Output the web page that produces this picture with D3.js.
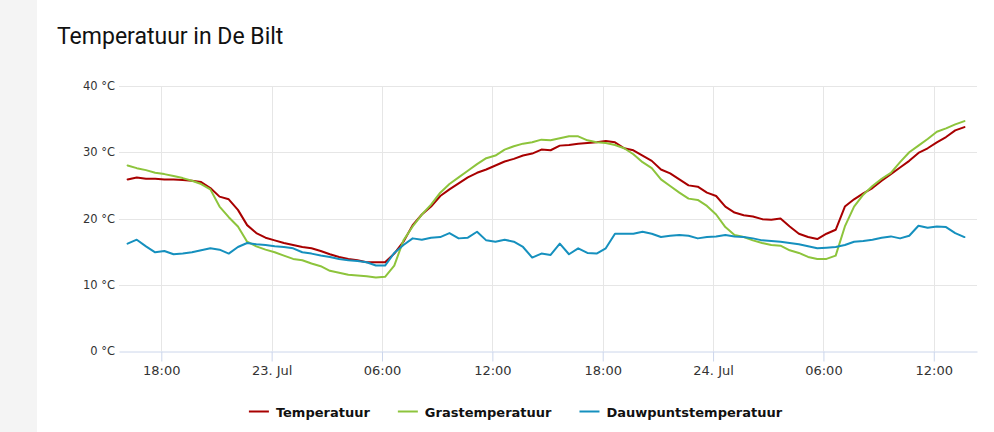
<!DOCTYPE html>
<html>
<head>
<meta charset="utf-8">
<script src="https://cdn.jsdelivr.net/npm/d3@7"></script>
<style>
  html, body { margin: 0; padding: 0; background: #ffffff; }
  svg { display: block; }
</style>
</head>
<body>
<div id="chart"></div>
<script>
// half-hourly readings, first one at 22 Jul 16:10
const startTime = new Date(2019, 6, 22, 16, 10);
const stepMinutes = 30;

const temperatuur = [
  25.9, 26.2, 26.0, 26.0, 25.9, 25.9, 25.8, 25.7, 25.5, 24.6, 23.3, 22.9,
  21.3, 19.0, 17.8, 17.1, 16.7, 16.3, 16.0, 15.7, 15.5, 15.1, 14.6,
  14.2, 13.9, 13.7, 13.4, 13.4, 13.4, 14.7, 16.5, 19.0, 20.6, 21.8, 23.4,
  24.4, 25.3, 26.2, 26.9, 27.4, 28.0, 28.6, 29.0, 29.5, 29.8, 30.4,
  30.3, 31.0, 31.1, 31.3, 31.4, 31.5, 31.7, 31.5, 30.6, 30.3, 29.5, 28.7,
  27.4, 26.8, 25.9, 25.0, 24.8, 23.9, 23.4, 21.8, 20.9, 20.5, 20.3, 19.9,
  19.8, 20.0, 18.8, 17.7, 17.2, 16.9, 17.7, 18.3, 21.8, 22.9, 23.8, 24.6,
  25.7, 26.7, 27.7, 28.7, 29.9, 30.6, 31.5, 32.3, 33.3, 33.8
];

const grastemperatuur = [
  28.0, 27.6, 27.3, 26.9, 26.7, 26.4, 26.1, 25.7, 25.2, 24.4, 21.8, 20.2,
  18.8, 16.5, 15.8, 15.3, 14.9, 14.4, 13.9, 13.7, 13.2, 12.8, 12.1,
  11.8, 11.5, 11.4, 11.3, 11.1, 11.2, 12.9, 16.7, 18.8, 20.6, 22.1, 23.9,
  25.2, 26.2, 27.2, 28.2, 29.1, 29.5, 30.4, 30.9, 31.3, 31.5, 31.9,
  31.8, 32.1, 32.4, 32.4, 31.8, 31.5, 31.4, 31.1, 30.6, 29.7, 28.5, 27.6,
  25.9, 24.9, 23.9, 23.0, 22.8, 21.9, 20.6, 18.7, 17.5, 17.2, 16.7, 16.3,
  16.0, 15.9, 15.2, 14.8, 14.2, 13.9, 13.9, 14.4, 18.8, 21.8, 23.6, 24.9,
  26.0, 26.9, 28.5, 30.0, 31.0, 32.0, 33.1, 33.6, 34.2, 34.7
];

const dauwpuntstemperatuur = [
  16.2, 16.8, 15.8, 14.9, 15.1, 14.6, 14.7, 14.9, 15.2, 15.5, 15.3, 14.7,
  15.7, 16.3, 16.1, 16.0, 15.8, 15.7, 15.5, 14.9, 14.7, 14.4, 14.2,
  13.9, 13.7, 13.6, 13.4, 12.9, 12.9, 14.8, 16.0, 17.0, 16.8, 17.1, 17.2,
  17.8, 17.0, 17.1, 18.0, 16.7, 16.5, 16.8, 16.5, 15.7, 14.1, 14.7,
  14.5, 16.2, 14.6, 15.5, 14.8, 14.7, 15.5, 17.7, 17.7, 17.7, 18.0, 17.7,
  17.2, 17.4, 17.5, 17.4, 17.0, 17.2, 17.3, 17.5, 17.3, 17.2, 17.0, 16.7,
  16.6, 16.5, 16.3, 16.1, 15.8, 15.5, 15.6, 15.7, 16.0, 16.5, 16.6, 16.8,
  17.1, 17.3, 17.0, 17.4, 18.9, 18.6, 18.8, 18.7, 17.8, 17.2
];

const seriesNames = ["Temperatuur", "Grastemperatuur", "Dauwpuntstemperatuur"];
const seriesColors = ["#a80000", "#8dc43c", "#1590be"];
const yTicks = [0, 10, 20, 30, 40];
const monthNames = ["Jan", "Feb", "Mar", "Apr", "Mei", "Jun", "Jul", "Aug", "Sep", "Okt", "Nov", "Dec"];

const width = 994;
const height = 432;
const plot = { left: 119, right: 977, top: 86, bottom: 351 };

const times = temperatuur.map((d, i) => d3.timeMinute.offset(startTime, i * stepMinutes));
const allSeries = [temperatuur, grastemperatuur, dauwpuntstemperatuur].map((vals, k) => ({
  name: seriesNames[k],
  color: seriesColors[k],
  values: vals.map((v, i) => ({ t: times[i], v: v }))
}));

const svg = d3.select("#chart")
  .append("svg")
  .attr("width", width)
  .attr("height", height);

// grey page strip on the left
svg.append("rect")
  .attr("x", 0).attr("y", 0)
  .attr("width", 37).attr("height", height)
  .attr("fill", "#f4f4f4");

// title
svg.append("text")
  .attr("x", 57)
  .attr("y", 43.5)
  .style("font-family", "Roboto")
  .style("font-size", "23px")
  .attr("fill", "#111111")
  .text("Temperatuur in De Bilt");

// scales
const x = d3.scaleTime()
  .domain([new Date(2019, 6, 22, 15, 42), new Date(2019, 6, 24, 14, 21)])
  .range([plot.left, plot.right]);

const y = d3.scaleLinear()
  .domain([0, 40])
  .range([plot.bottom, plot.top]);

const xTicks = x.ticks(d3.timeHour.every(6));
const fmtHour = d3.timeFormat("%H:%M");
function xLabel(d) {
  if (d.getHours() === 0) return d.getDate() + ". " + monthNames[d.getMonth()];
  return fmtHour(d);
}

// horizontal grid
svg.append("g")
  .selectAll("line")
  .data(yTicks.filter(d => d > 0))
  .join("line")
  .attr("x1", plot.left)
  .attr("x2", plot.right)
  .attr("y1", d => Math.round(y(d)) + 0.5)
  .attr("y2", d => Math.round(y(d)) + 0.5)
  .attr("stroke", "#e6e6e6");

// vertical grid
svg.append("g")
  .selectAll("line")
  .data(xTicks)
  .join("line")
  .attr("x1", d => Math.round(x(d)) + 0.5)
  .attr("x2", d => Math.round(x(d)) + 0.5)
  .attr("y1", plot.top)
  .attr("y2", plot.bottom)
  .attr("stroke", "#e6e6e6");

// x axis
const xAxis = svg.append("g")
  .attr("transform", `translate(0, ${Math.round(plot.bottom) + 0.5})`)
  .call(d3.axisBottom(x)
    .tickValues(xTicks)
    .tickFormat(xLabel)
    .tickSize(10)
    .tickSizeOuter(0)
    .tickPadding(4));
xAxis.select(".domain").attr("stroke", "#ccd6eb");
xAxis.selectAll(".tick line").attr("stroke", "#ccd6eb");
xAxis.selectAll(".tick text")
  .style("font-family", "DejaVu Sans")
  .style("font-size", "13px")
  .attr("fill", "#333333");

// y axis labels
const yAxis = svg.append("g")
  .attr("transform", `translate(${plot.left}, 0)`)
  .call(d3.axisLeft(y)
    .tickValues(yTicks)
    .tickFormat(d => d + " °C")
    .tickSize(0)
    .tickPadding(4));
yAxis.select(".domain").remove();
yAxis.selectAll(".tick text")
  .style("font-family", "DejaVu Sans")
  .style("font-size", "11.5px")
  .attr("fill", "#333333");

// lines
const line = d3.line()
  .x(d => x(d.t))
  .y(d => y(d.v));

svg.append("g")
  .selectAll("path")
  .data(allSeries)
  .join("path")
  .attr("d", d => line(d.values))
  .attr("fill", "none")
  .attr("stroke", d => d.color)
  .attr("stroke-width", 2)
  .attr("stroke-linejoin", "round")
  .attr("stroke-linecap", "round");

// legend, centred in the white area
const legend = svg.append("g");
const items = legend.selectAll("g")
  .data(allSeries)
  .join("g");

items.append("line")
  .attr("x1", 0).attr("x2", 20)
  .attr("y1", 0).attr("y2", 0)
  .attr("stroke", d => d.color)
  .attr("stroke-width", 2);

items.append("text")
  .attr("x", 27)
  .attr("y", 5)
  .style("font-family", "DejaVu Sans")
  .style("font-size", "13px")
  .style("font-weight", "bold")
  .attr("fill", "#111111")
  .text(d => d.name);

let offset = 0;
const offsets = [];
items.each(function () {
  offsets.push(offset);
  const w = d3.select(this).select("text").node().getComputedTextLength();
  offset += 27 + w + 28;
});
const totalWidth = offset - 28;
const legendLeft = (37 + width) / 2 - totalWidth / 2;
items.attr("transform", (d, i) => `translate(${legendLeft + offsets[i]}, 411.5)`);
</script>
</body>
</html>
